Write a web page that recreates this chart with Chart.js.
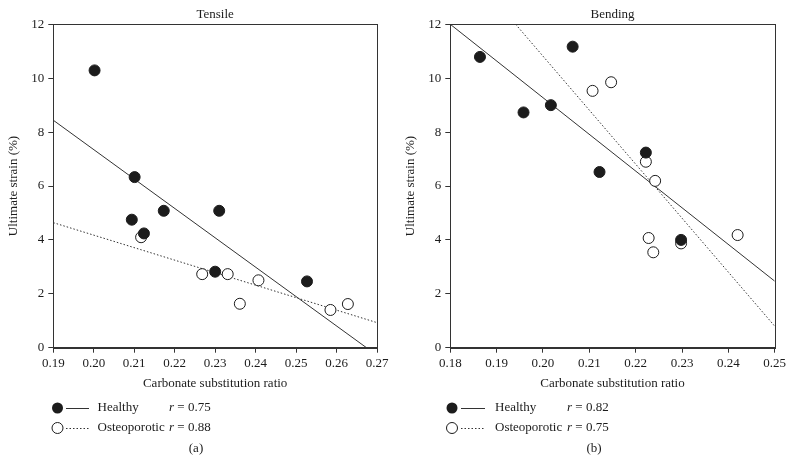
<!DOCTYPE html>
<html>
<head>
<meta charset="utf-8">
<script src="https://cdn.jsdelivr.net/npm/chart.js@4/dist/chart.umd.min.js"></script>
<style>
  html, body { margin: 0; padding: 0; background: #fff; }
  #wrap { position: relative; width: 793px; height: 464px; overflow: hidden; }
  .box { position: absolute; top: 0; width: 396px; height: 464px; }
</style>
</head>
<body>
<div id="wrap">
  <div class="box" style="left:0px"><canvas id="c1" width="396" height="464"></canvas></div>
  <div class="box" style="left:397px"><canvas id="c2" width="396" height="464"></canvas></div>
</div>
<script>
// ---------- Data ----------
// Panel (a) Tensile
const tensileHealthyX = [0.2002, 0.2101, 0.2094, 0.2124, 0.2173, 0.2310, 0.2300, 0.2527];
const tensileHealthyY = [10.29, 6.33, 4.75, 4.24, 5.08, 5.08, 2.82, 2.46];
const tensileOsteoX   = [0.2117, 0.2268, 0.2331, 0.2361, 0.2407, 0.2585, 0.2628];
const tensileOsteoY   = [4.10, 2.73, 2.73, 1.63, 2.50, 1.40, 1.62];
const tensileHealthyFitX = [0.19, 0.2674];
const tensileHealthyFitY = [8.44, 0];
const tensileOsteoFitX   = [0.19, 0.27];
const tensileOsteoFitY   = [4.64, 0.93];
const tensileXRange = [0.19, 0.27];

// Panel (b) Bending
const bendingHealthyX = [0.1864, 0.1958, 0.2017, 0.2064, 0.2122, 0.2222, 0.2298];
const bendingHealthyY = [10.79, 8.73, 9.00, 11.17, 6.52, 7.24, 4.00];
const bendingOsteoX   = [0.2107, 0.2147, 0.2222, 0.2242, 0.2228, 0.2238, 0.2298, 0.2420];
const bendingOsteoY   = [9.53, 9.85, 6.90, 6.19, 4.07, 3.54, 3.87, 4.18];
const bendingHealthyFitX = [0.18, 0.25];
const bendingHealthyFitY = [12.0, 2.47];
const bendingOsteoFitX   = [0.1941, 0.25];
const bendingOsteoFitY   = [12.0, 0.8];
const bendingXRange = [0.18, 0.25];

const yRange = [0, 12];
const yStep = 2;
const xStep = 0.01;

const legendNames = ['Healthy', 'Osteoporotic'];
const tensileR = ['0.75', '0.88'];
const bendingR = ['0.82', '0.75'];

const xTitle = 'Carbonate substitution ratio';
const yTitle = 'Ultimate strain (%)';

// ---------- Helpers ----------
const FONT = '"Liberation Serif", "DejaVu Serif", serif';
const INK = '#1c1c1c';
const zip = (xs, ys) => xs.map((x, i) => ({ x: x, y: ys[i] }));

const decor = {
  id: 'decor',
  afterDraw(chart, args, o) {
    const { ctx, chartArea } = chart;
    const { left, top, right, bottom } = chartArea;
    ctx.save();
    // frame
    ctx.strokeStyle = '#333';
    ctx.lineWidth = 1;
    ctx.strokeRect(Math.round(left) + 0.5, Math.round(top) + 0.5,
                   Math.round(right) - Math.round(left), Math.round(bottom) - Math.round(top));
    ctx.fillStyle = INK;
    ctx.textBaseline = 'middle';
    // panel title
    ctx.font = '13px ' + FONT;
    ctx.textAlign = 'center';
    ctx.fillText(o.title, (left + right) / 2, 15);
    // legend
    const rows = [408, 428];
    ctx.textAlign = 'left';
    rows.forEach((y, i) => {
      // marker
      ctx.beginPath();
      ctx.arc(o.cx, y, 5.5, 0, Math.PI * 2);
      if (i === 0) { ctx.fillStyle = INK; ctx.fill(); }
      else { ctx.fillStyle = '#fff'; ctx.fill(); ctx.strokeStyle = INK; ctx.lineWidth = 1; ctx.stroke(); }
      // line sample
      ctx.beginPath();
      ctx.strokeStyle = '#333';
      ctx.lineWidth = 1;
      ctx.setLineDash(i === 0 ? [] : [1.5, 2]);
      ctx.moveTo(o.lx0, y + 0.5);
      ctx.lineTo(o.lx1, y + 0.5);
      ctx.stroke();
      ctx.setLineDash([]);
      // text
      ctx.fillStyle = INK;
      ctx.font = '13px ' + FONT;
      ctx.fillText(legendNames[i], o.tx, y);
      ctx.font = 'italic 13px ' + FONT;
      ctx.fillText('r', o.rx, y);
      const rw = ctx.measureText('r').width;
      ctx.font = '13px ' + FONT;
      ctx.fillText(' = ' + o.r[i], o.rx + rw, y);
    });
    // caption
    ctx.textAlign = 'center';
    ctx.fillText(o.caption, o.capx, 449);
    ctx.restore();
  }
};

function makeChart(id, cfg) {
  const datasets = [
    { type: 'scatter', data: zip(cfg.hx, cfg.hy), pointRadius: 5.5, pointHoverRadius: 5.5,
      pointBackgroundColor: INK, pointBorderColor: INK, pointBorderWidth: 1 },
    { type: 'scatter', data: zip(cfg.ox, cfg.oy), pointRadius: 5.5, pointHoverRadius: 5.5,
      pointBackgroundColor: '#fff', pointBorderColor: INK, pointBorderWidth: 1 },
    { type: 'line', data: zip(cfg.hfx, cfg.hfy), borderColor: '#333', borderWidth: 1,
      pointRadius: 0, fill: false, tension: 0 },
    { type: 'line', data: zip(cfg.ofx, cfg.ofy), borderColor: '#333', borderWidth: 1,
      borderDash: [1.5, 2], pointRadius: 0, fill: false, tension: 0 }
  ];
  return new Chart(document.getElementById(id), {
    data: { datasets: datasets },
    options: {
      responsive: false,
      animation: false,
      layout: { padding: { left: 0, right: cfg.padRight, top: 24.3, bottom: 0 } },
      plugins: {
        legend: { display: false },
        tooltip: { enabled: false },
        decor: cfg.decor
      },
      scales: {
        x: {
          type: 'linear',
          position: 'bottom',
          min: cfg.xr[0], max: cfg.xr[1],
          afterFit: (s) => { s.height = 116.3; },
          ticks: {
            stepSize: xStep,
            color: INK,
            padding: 3,
            font: { family: FONT, size: 13 },
            callback: (v) => Number(v).toFixed(2)
          },
          grid: { display: true, drawOnChartArea: false, drawTicks: true, tickLength: 5, color: '#333' },
          border: { display: true, color: '#333' },
          title: { display: true, text: xTitle, color: INK, font: { family: FONT, size: 13 },
                   padding: { top: 0, bottom: 73 } }
        },
        y: {
          type: 'linear',
          position: 'left',
          min: yRange[0], max: yRange[1],
          afterFit: (s) => { s.width = 53.3; },
          ticks: {
            stepSize: yStep,
            color: INK,
            padding: 4,
            font: { family: FONT, size: 13 }
          },
          grid: { display: true, drawOnChartArea: false, drawTicks: true, tickLength: 5, color: '#333' },
          border: { display: true, color: '#333' },
          title: { display: true, text: yTitle, color: INK, font: { family: FONT, size: 13 },
                   padding: { top: 6, bottom: 0 } }
        }
      }
    },
    plugins: [decor]
  });
}

makeChart('c1', {
  hx: tensileHealthyX, hy: tensileHealthyY, ox: tensileOsteoX, oy: tensileOsteoY,
  hfx: tensileHealthyFitX, hfy: tensileHealthyFitY, ofx: tensileOsteoFitX, ofy: tensileOsteoFitY,
  xr: tensileXRange, padRight: 19,
  decor: { title: 'Tensile', cx: 57.5, lx0: 66, lx1: 89, tx: 97.5, rx: 169, r: tensileR, caption: '(a)', capx: 196 }
});

makeChart('c2', {
  hx: bendingHealthyX, hy: bendingHealthyY, ox: bendingOsteoX, oy: bendingOsteoY,
  hfx: bendingHealthyFitX, hfy: bendingHealthyFitY, ofx: bendingOsteoFitX, ofy: bendingOsteoFitY,
  xr: bendingXRange, padRight: 18.3,
  decor: { title: 'Bending', cx: 55, lx0: 64, lx1: 88, tx: 98, rx: 170, r: bendingR, caption: '(b)', capx: 197 }
});
</script>
</body>
</html>
